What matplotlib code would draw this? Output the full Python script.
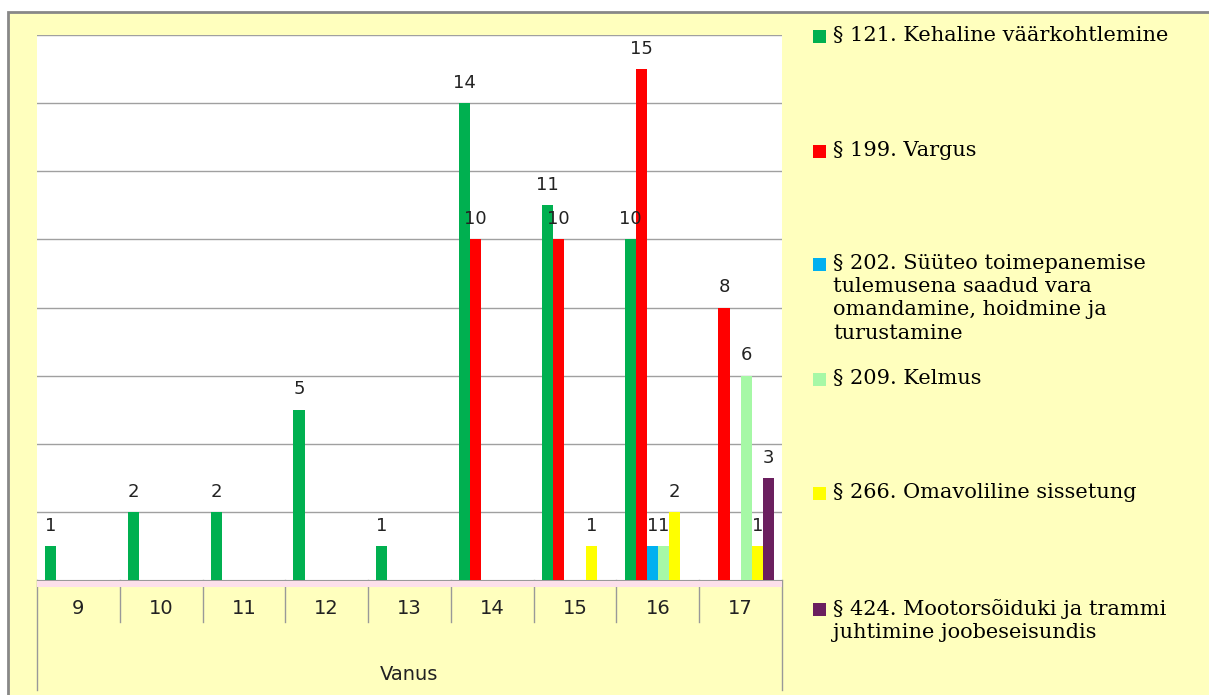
import matplotlib.pyplot as plt
from matplotlib.patches import Rectangle
from matplotlib.lines import Line2D
import matplotlib.transforms as mtransforms
import numpy as np

ages = ['9', '10', '11', '12', '13', '14', '15', '16', '17']

series_names = [
    '§ 121. Kehaline väärkohtlemine',
    '§ 199. Vargus',
    '§ 202. Süüteo toimepanemise\ntulemusena saadud vara\nomandamine, hoidmine ja\nturustamine',
    '§ 209. Kelmus',
    '§ 266. Omavoliline sissetung',
    '§ 424. Mootorsõiduki ja trammi\njuhtimine joobeseisundis',
]
kehaline = [1, 2, 2, 5, 1, 14, 11, 10, 0]
vargus = [0, 0, 0, 0, 0, 10, 10, 15, 8]
syyteo = [0, 0, 0, 0, 0, 0, 0, 1, 0]
kelmus = [0, 0, 0, 0, 0, 0, 0, 1, 6]
sissetung = [0, 0, 0, 0, 0, 0, 1, 2, 1]
joobes = [0, 0, 0, 0, 0, 0, 0, 0, 3]

all_series = [kehaline, vargus, syyteo, kelmus, sissetung, joobes]
colors = ['#00B050', '#FF0000', '#00B0F0', '#A6F8A6', '#FFFF00', '#6B1F5F']

W, H = 1209, 695
bg = '#FFFFBE'

fig = plt.figure(figsize=(W / 100, H / 100), dpi=100)
fig.patch.set_facecolor('white')

# yellow frame behind everything
frame = Rectangle((8 / W, -0.05), 1.2, 1 - 12 / H + 0.05,
                  transform=fig.transFigure, facecolor=bg,
                  edgecolor='#888888', linewidth=2, zorder=-10)
fig.patches.append(frame)

ax_l, ax_r, ax_t, ax_b = 37, 782, 35, 580
ax = fig.add_axes([ax_l / W, 1 - ax_b / H, (ax_r - ax_l) / W, (ax_b - ax_t) / H])
ax.set_facecolor('white')

x = np.arange(len(ages))
w = 0.134
for i, (vals, col) in enumerate(zip(all_series, colors)):
    pos = x + (i - 2.5) * w
    ax.bar(pos, vals, width=w, color=col, zorder=3)
    for p, v in zip(pos, vals):
        if v > 0:
            ax.text(p, v + 0.33, str(v), ha='center', va='bottom',
                    fontsize=13, color='#222222', zorder=4)

ax.set_xlim(-0.5, len(ages) - 0.5)
ax.set_ylim(0, 16)
ax.set_yticks(np.arange(2, 17, 2))
ax.yaxis.grid(True, color='#A0A0A0', linewidth=1)
ax.set_axisbelow(True)
ax.tick_params(left=False, labelleft=False, bottom=False, labelbottom=False)
for s in ['top', 'left', 'right']:
    ax.spines[s].set_visible(False)
ax.spines['bottom'].set_color('#999999')

# category table below the plot
trans = mtransforms.blended_transform_factory(ax.transData, ax.transAxes)
axh = ax_b - ax_t
fig.patches.append(Rectangle((ax_l / W, 1 - (ax_b + 7) / H), (ax_r - ax_l) / W, 6 / H,
                             transform=fig.transFigure, facecolor='#FCE0EA',
                             edgecolor='none', zorder=1))
for k in range(1, len(ages)):
    ax.add_line(Line2D([k - 0.5, k - 0.5], [0, -42 / axh], transform=trans,
                       color='#999999', linewidth=1, clip_on=False))
for xe in [-0.5, len(ages) - 0.5]:
    ax.add_line(Line2D([xe, xe], [0, -110 / axh], transform=trans,
                       color='#999999', linewidth=1, clip_on=False))
for k, lab in enumerate(ages):
    ax.text(k, -29 / axh, lab, transform=trans, ha='center', va='center',
            fontsize=14, color='#222222')
ax.text(0.5, -95 / axh, 'Vanus', transform=ax.transAxes, ha='center',
        va='center', fontsize=14, color='#222222')

# legend on the right
leg_y = [37, 152, 265, 380, 494, 610]
for name, col, yy in zip(series_names, colors, leg_y):
    fig.patches.append(Rectangle((813 / W, 1 - (yy + 6) / H), 13 / W, 13 / H,
                                 transform=fig.transFigure, facecolor=col,
                                 edgecolor='none'))
    fig.text(833 / W, 1 - (yy - 11) / H, name, ha='left', va='top',
             fontsize=15, family='DejaVu Serif', color='black',
             linespacing=1.28)

fig.savefig('out.png', dpi=100, facecolor=fig.get_facecolor())
